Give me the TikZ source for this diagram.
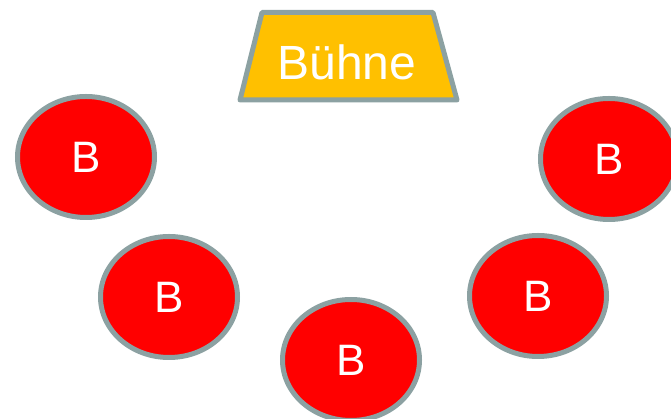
\documentclass[tikz,border=0pt]{standalone}
\usepackage{fontspec}
\setmainfont{Liberation Sans}
\usepackage{tikz}
\usetikzlibrary{positioning,shapes}
\definecolor{rimgray}{RGB}{140,161,162}
\definecolor{stagegold}{RGB}{255,192,0}
\tikzset{
seat/.style={ellipse, fill=red, draw=rimgray, line width=5pt, minimum width=137pt, minimum height=121pt, inner sep=0pt, text=white, font=\fontsize{44}{44}\selectfont},
stage/.style={fill=stagegold, draw=rimgray, line width=5pt, line join=round},
stagetext/.style={text=white, font=\fontsize{48}{48}\selectfont}
}

\begin{document}
\begin{tikzpicture}[x=1pt,y=1pt]
\useasboundingbox (0,0) rectangle (671,419);
\draw[stage] (240,319) -- (262,406.5) -- (433,406.5) -- (457,319) -- cycle;
\node[stagetext] (buehne) at (347,357) {Bühne};
\node[seat] (b1) at (86,262) {B};
\node[seat] (b2) at (169,122) {B};
\node[seat] (b3) at (351,59) {B};
\node[seat] (b4) at (538,123) {B};
\node[seat] (b5) at (609,260) {B};
\end{tikzpicture}
\end{document}
